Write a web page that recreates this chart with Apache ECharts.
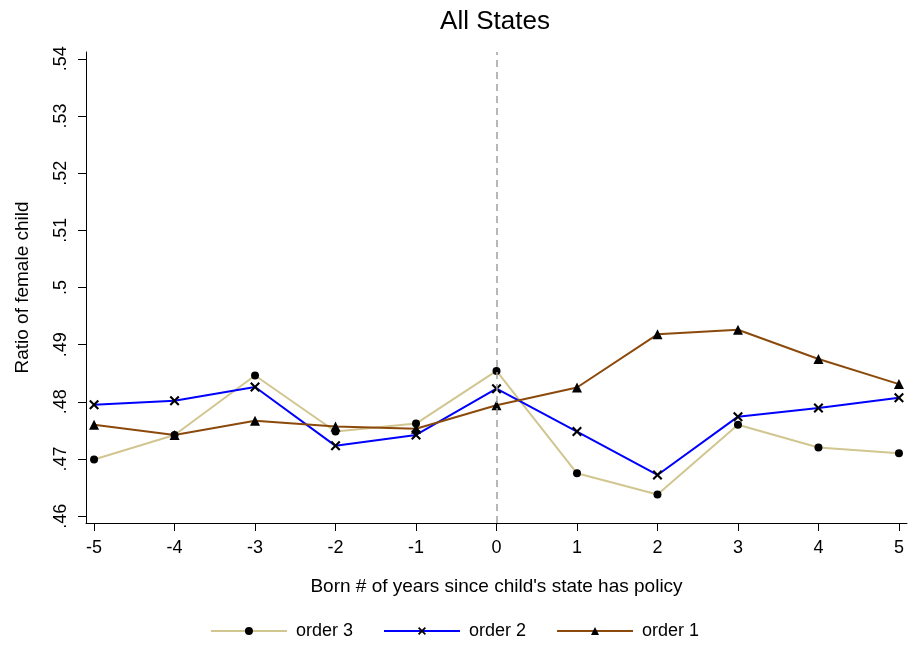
<!DOCTYPE html>
<html><head><meta charset="utf-8">
<script src="https://cdn.jsdelivr.net/npm/echarts@6/dist/echarts.min.js"></script>
<style>html,body{margin:0;padding:0;background:#fff}#c{width:909px;height:647px}</style>
</head><body><div id="c"></div>
<script>
const xValues = [-5,-4,-3,-2,-1,0,1,2,3,4,5];
const order3 = [0.4699,0.4742,0.4846,0.4748,0.4762,0.4854,0.4675,0.4638,0.4760,0.4720,0.4710];
const order2 = [0.4795,0.4802,0.4826,0.4723,0.4742,0.4823,0.4748,0.4672,0.4774,0.4789,0.4807];
const order1 = [0.4760,0.4742,0.4767,0.4757,0.4753,0.4794,0.4825,0.4918,0.4926,0.4875,0.4831];
const yTicks = [0.46,0.47,0.48,0.49,0.50,0.51,0.52,0.53,0.54];
const xTicks = [-5,-4,-3,-2,-1,0,1,2,3,4,5];

const font = 'Liberation Sans, Arial, sans-serif';
const crossPath = 'path://M0,1.5 L1.5,0 L5,3.5 L8.5,0 L10,1.5 L6.5,5 L10,8.5 L8.5,10 L5,6.5 L1.5,10 L0,8.5 L3.5,5 Z';
const pairs = arr => xValues.map((x,i)=>[x,arr[i]]);
const fmtY = v => { let s = String(+v.toFixed(2)); return s.replace(/^0/, ''); };

const chart = echarts.init(document.getElementById('c'), null, {renderer:'canvas'});
chart.setOption({
  animation:false,
  backgroundColor:'#fff',
  title:{text:'All States', left:490, top:4, textAlign:'center',
    textStyle:{fontFamily:font, fontSize:26, fontWeight:'normal', color:'#000'}},
  grid:{left:86, right:2, top:52, bottom:124},
  legend:{bottom:2, left:'center', itemWidth:76, itemHeight:10, itemGap:30,
    textStyle:{fontFamily:font, fontSize:18, color:'#000', padding:[0,0,0,4]},
    data:['order 3','order 2','order 1']},
  xAxis:{type:'value', min:-5.1, max:5.1,
    name:"Born # of years since child's state has policy", nameLocation:'middle', nameGap:54,
    nameTextStyle:{fontFamily:font, fontSize:19, color:'#000'},
    axisLine:{onZero:false, lineStyle:{color:'#000', width:1}},
    axisTick:{show:true, length:8, customValues:xTicks, lineStyle:{color:'#000'}},
    axisLabel:{customValues:xTicks, fontFamily:font, fontSize:18, color:'#000', margin:16},
    splitLine:{show:false}},
  yAxis:{type:'value', min:0.4588, max:0.5412,
    name:'Ratio of female child', nameLocation:'middle', nameGap:54,
    nameTextStyle:{fontFamily:font, fontSize:19, color:'#000'},
    axisLine:{show:true, onZero:false, lineStyle:{color:'#000', width:1}},
    axisTick:{show:true, length:8, customValues:yTicks, lineStyle:{color:'#000'}},
    axisLabel:{customValues:yTicks, rotate:90, fontFamily:font, fontSize:18, color:'#000', margin:16,
      formatter:fmtY},
    splitLine:{show:false}},
  series:[
    {name:'order 3', type:'line', data:pairs(order3), symbol:'circle', symbolSize:8,
      lineStyle:{color:'#d2c690', width:2}, itemStyle:{color:'#000'},
      markLine:{silent:true, symbol:'none', label:{show:false},
        lineStyle:{color:'#a0a0a0', type:[7,5], width:1.5}, data:[{xAxis:0}]}},
    {name:'order 2', type:'line', data:pairs(order2), symbol:crossPath, symbolSize:10,
      lineStyle:{color:'#0000ff', width:2}, itemStyle:{color:'#000'}},
    {name:'order 1', type:'line', data:pairs(order1), symbol:'triangle', symbolSize:10,
      lineStyle:{color:'#8b4a0c', width:2}, itemStyle:{color:'#000'}}
  ]
});
</script></body></html>
